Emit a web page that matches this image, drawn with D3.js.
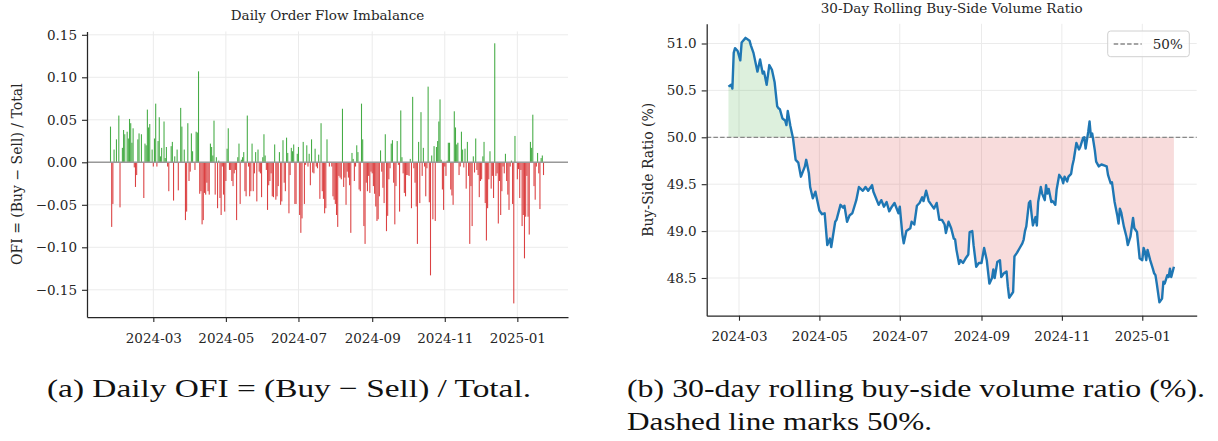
<!DOCTYPE html>
<html>
<head>
<meta charset="utf-8">
<script src="https://cdn.jsdelivr.net/npm/d3@7/dist/d3.min.js"></script>
<style>
  body { margin: 0; background: #fff; }
  svg { display: block; }
  text { font-family: "DejaVu Serif", serif; fill: #262626; }
  .cap { font-family: "Liberation Serif", serif; fill: #111; }
</style>
</head>
<body>
<svg id="fig" width="1218" height="441"></svg>
<script>
// ---- data ----
var startDate = "2024-01-25";   // day 0 of both series

// daily OFI, one value per calendar day from startDate (0 = no visible bar)
var ofi = [
  0.042,-0.076,-0.049,0.015,0,0.027,0,0.055,-0.053,0,
  0.017,0.038,0.033,0,0.036,0.028,0.051,0.046,0.023,0.040,
  -0.006,-0.029,-0.015,0.027,0.034,0,0.033,0,-0.042,0.022,
  0.020,0.062,0.041,0.045,0,0.015,-0.005,0.028,0.069,-0.005,
  0.025,0.053,0.007,0.017,0,0.048,0.005,0.018,-0.005,-0.034,
  0,0.019,0.024,-0.045,0.007,0,0.015,-0.033,0,0.064,
  0.042,0,0.015,-0.068,-0.058,0.046,-0.022,-0.011,0.034,0.013,
  0,-0.009,0.036,0.035,0.107,-0.037,-0.034,-0.073,-0.068,-0.036,
  -0.038,-0.024,-0.034,-0.038,0.022,0.018,0.008,0.049,-0.038,0.006,
  -0.054,0.002,-0.042,-0.062,-0.005,-0.038,-0.058,-0.022,0.016,0.040,
  -0.009,-0.009,-0.022,-0.028,-0.013,-0.009,-0.068,0.006,0.022,-0.049,
  0.003,0.006,0.012,-0.034,-0.040,0.055,-0.005,-0.040,-0.034,0.022,
  -0.034,-0.013,0.012,-0.046,0.015,-0.011,-0.013,-0.041,0.006,0.033,
  0.008,-0.009,-0.056,-0.027,-0.022,-0.013,-0.040,-0.041,0.021,-0.044,
  -0.040,-0.028,0.012,-0.050,-0.046,0.026,-0.024,-0.034,0.029,0.011,
  -0.060,-0.015,0.017,0.013,0.021,-0.049,-0.049,0.010,0.018,-0.062,
  -0.083,-0.066,0.024,-0.049,-0.003,0.020,-0.005,0.010,-0.027,0.027,
  -0.012,-0.013,0.016,-0.005,-0.007,0.009,-0.043,0.046,-0.034,-0.043,
  -0.060,-0.054,0.027,0,-0.005,0,-0.005,-0.040,-0.044,-0.049,
  -0.062,-0.076,-0.016,-0.018,-0.020,0.063,-0.029,-0.018,-0.050,-0.011,
  -0.018,-0.027,-0.083,0.011,0.004,-0.022,-0.005,0.020,0.012,-0.032,
  -0.034,0.069,0.027,-0.075,-0.096,-0.024,-0.034,-0.016,-0.036,-0.011,
  -0.013,-0.028,-0.037,-0.052,-0.069,-0.067,-0.040,0.014,-0.011,-0.030,
  -0.048,0.033,-0.081,-0.063,-0.020,-0.007,0.022,0.026,-0.024,-0.073,
  -0.028,0.025,-0.003,-0.058,0.061,0.006,-0.013,-0.036,-0.040,-0.015,
  -0.015,-0.016,0.004,-0.054,0.077,-0.007,-0.024,-0.052,-0.096,0.024,
  -0.048,0.059,-0.016,0.017,-0.005,-0.040,-0.007,0.089,-0.047,-0.133,
  0.008,-0.067,0.019,-0.069,0.018,0.025,0.048,0.074,0.003,-0.032,
  -0.056,-0.005,-0.016,0.002,0.023,0.023,-0.032,-0.039,-0.050,0.060,
  0.041,0.021,0.023,-0.015,-0.005,0.036,0.015,-0.006,0.016,-0.031,
  0.024,-0.016,-0.096,-0.028,-0.075,0.007,-0.012,0.028,-0.009,-0.015,
  -0.041,-0.022,-0.020,0.007,0.024,-0.048,-0.092,-0.054,-0.020,0.013,
  -0.031,-0.016,-0.042,0.140,-0.016,-0.013,-0.072,-0.022,-0.062,-0.034,
  -0.005,-0.013,0.010,-0.022,-0.038,-0.056,-0.005,0.002,-0.049,-0.166,
  0.031,0,-0.020,-0.008,-0.042,-0.009,-0.075,-0.062,-0.113,-0.064,
  -0.016,-0.064,-0.085,0.024,0.017,0.056,-0.028,-0.044,-0.005,0.011,
  -0.013,-0.055,0.005,0.008,-0.015
];

// 30-day rolling buy-side ratio (%): day offset from startDate, value
var rollDay = [
  28,30,31,32,33,35,37,38,41,44,45,47,50,52,54,55,57,59,61,63,
  65,66,67,69,71,72,73,75,77,79,81,83,86,87,89,90,92,94,97,99,
  101,103,105,106,109,110,113,115,116,118,120,122,125,127,130,132,134,137,138,142,
  144,146,148,150,152,154,157,158,160,161,163,166,167,169,171,173,175,176,178,180,
  182,184,186,188,190,192,193,195,197,199,200,201,203,204,206,208,210,211,213,214,
  216,218,220,222,224,226,228,229,230,232,234,235,237,239,240,241,243,244,245,247,
  249,251,252,253,254,256,257,258,259,261,262,263,265,266,268,269,270,271,273,274,
  276,277,279,281,282,283,285,286,288,289,290,292,294,295,297,298,299,301,302,303,
  304,306,307,309,311,313,315,316,318,319,321,323,324,325,326,328,330,331,333,335,
  336,338,340,342,343,344,345,346,348,350,351,352,353,355,357,358,359,361,362,363,
  364,366
];
var rollPct = [
  50.54,50.56,50.52,50.90,50.95,50.92,50.82,51.01,51.06,51.03,50.98,50.90,50.70,50.83,50.68,50.70,50.56,50.77,50.72,50.59,
  50.33,50.31,50.30,50.20,50.18,50.13,50.28,50.12,49.99,49.76,49.73,49.58,49.69,49.76,49.62,49.47,49.35,49.42,49.22,49.18,
  49.19,48.85,48.92,48.83,49.10,49.12,49.28,49.25,49.27,49.10,49.17,49.19,49.33,49.47,49.43,49.47,49.43,49.49,49.42,49.28,
  49.33,49.26,49.31,49.21,49.26,49.30,49.19,49.26,48.96,48.87,49.00,49.03,49.10,49.07,49.27,49.30,49.36,49.32,49.43,49.32,
  49.28,49.24,49.30,49.12,49.12,49.07,48.98,49.10,49.03,48.92,48.91,48.80,48.65,48.69,48.66,48.71,48.75,48.99,49.00,48.85,
  48.62,48.66,48.66,48.82,48.69,48.44,48.50,48.59,48.50,48.67,48.69,48.51,48.55,48.57,48.41,48.29,48.33,48.35,48.73,48.77,
  48.82,48.87,48.91,49.00,49.05,49.30,49.32,49.18,49.06,49.15,49.06,49.31,49.47,49.40,49.33,49.49,49.40,49.45,49.31,49.32,
  49.28,49.44,49.60,49.56,49.51,49.58,49.53,49.58,49.61,49.70,49.76,49.94,49.87,49.90,49.99,50.00,49.88,50.06,50.17,50.01,
  50.04,49.86,49.74,49.69,49.71,49.70,49.69,49.60,49.51,49.52,49.31,49.17,49.08,49.24,49.20,49.05,48.94,48.85,48.94,49.14,
  49.03,48.99,48.71,48.69,48.82,48.78,48.69,48.80,48.69,48.60,48.55,48.53,48.44,48.24,48.28,48.46,48.44,48.53,48.51,48.60,
  48.51,48.62
];

var xTicks = ["2024-03-01","2024-05-01","2024-07-01","2024-09-01","2024-11-01","2025-01-01"];
var ofiTicks = [-0.15,-0.10,-0.05,0,0.05,0.10,0.15];
var pctTicks = [48.5,49.0,49.5,50.0,50.5,51.0];
var refLevel = 50;

// ---- helpers ----
var parse = d3.utcParse("%Y-%m-%d");
var t0 = parse(startDate);
function dayDate(d) { return d3.utcDay.offset(t0, d); }
var tickDates = xTicks.map(parse);
var fmtMonth = d3.utcFormat("%Y-%m");
function minus(s) { return s.replace("-", "\u2212"); }

var svg = d3.select("#fig");
var grid = "#ebebeb", spine = "#262626";

function styleAxis(g) {
  g.selectAll("path.domain").attr("stroke", spine).attr("stroke-width", 1.25);
  g.selectAll(".tick line").attr("stroke", spine).attr("stroke-width", 1.1);
  g.selectAll(".tick text").attr("fill", spine).style("font-size", "13.5px")
    .style("font-family", "'DejaVu Serif', serif");
}

// ===== (a) Daily OFI =====
var A = {left: 87, right: 568, top: 31.4, bottom: 317};
var xa = d3.scaleUtc()
  .domain([new Date(Date.UTC(2024,0,5,6)), new Date(Date.UTC(2025,1,12,14))])
  .range([A.left, A.right]);
var ya = d3.scaleLinear().domain([-0.182, 0.154]).range([A.bottom, A.top]);

var ga = svg.append("g");
ga.append("g").selectAll("line").data(tickDates).enter().append("line")
  .attr("x1", function(d){ return xa(d); }).attr("x2", function(d){ return xa(d); })
  .attr("y1", A.top).attr("y2", A.bottom)
  .attr("stroke", grid).attr("stroke-width", 1);
ga.append("g").selectAll("line").data(ofiTicks).enter().append("line")
  .attr("x1", A.left).attr("x2", A.right)
  .attr("y1", function(d){ return ya(d); }).attr("y2", function(d){ return ya(d); })
  .attr("stroke", grid).attr("stroke-width", 1);

var dayW = xa(dayDate(1)) - xa(dayDate(0));
ga.append("g").selectAll("rect").data(ofi).enter().append("rect")
  .attr("x", function(d, i){ return xa(dayDate(i)) - dayW * 0.45; })
  .attr("width", dayW * 0.9)
  .attr("y", function(d){ return ya(Math.max(d, 0)); })
  .attr("height", function(d){ return Math.abs(ya(d) - ya(0)); })
  .attr("fill", function(d){ return d >= 0 ? "#2ca02c" : "#d62728"; })
  .attr("fill-opacity", 0.88);

ga.append("line")
  .attr("x1", A.left).attr("x2", A.right).attr("y1", ya(0)).attr("y2", ya(0))
  .attr("stroke", "#999").attr("stroke-width", 1.6);

ga.append("g").attr("transform", "translate(0," + A.bottom + ")")
  .call(d3.axisBottom(xa).tickValues(tickDates).tickFormat(fmtMonth)
    .tickSize(5).tickSizeOuter(0).tickPadding(11))
  .call(styleAxis);
ga.append("g").attr("transform", "translate(" + A.left + ",0)")
  .call(d3.axisLeft(ya).tickValues(ofiTicks)
    .tickFormat(function(d){ return minus(d3.format(".2f")(d)); })
    .tickSize(5).tickSizeOuter(0).tickPadding(5))
  .call(styleAxis);

ga.append("text").attr("x", (A.left + A.right) / 2).attr("y", 20)
  .attr("text-anchor", "middle").style("font-size", "13.5px")
  .text("Daily Order Flow Imbalance");
ga.append("text")
  .attr("transform", "translate(22," + (A.top + A.bottom) / 2 + ") rotate(-90)")
  .attr("text-anchor", "middle").style("font-size", "14px")
  .text("OFI = (Buy \u2212 Sell) / Total");

// ===== (b) Rolling ratio =====
var B = {left: 706.7, right: 1196.7, top: 23.8, bottom: 315.7};
var xb = d3.scaleUtc()
  .domain([new Date(Date.UTC(2024,1,5,12)), new Date(Date.UTC(2025,1,11,7))])
  .range([B.left, B.right]);
var yb = d3.scaleLinear().domain([48.098, 51.21]).range([B.bottom, B.top]);

var roll = rollDay.map(function(d, i){ return {date: dayDate(d), v: rollPct[i]}; });

var gb = svg.append("g");
gb.append("g").selectAll("line").data(tickDates).enter().append("line")
  .attr("x1", function(d){ return xb(d); }).attr("x2", function(d){ return xb(d); })
  .attr("y1", B.top).attr("y2", B.bottom)
  .attr("stroke", grid).attr("stroke-width", 1);
gb.append("g").selectAll("line").data(pctTicks).enter().append("line")
  .attr("x1", B.left).attr("x2", B.right)
  .attr("y1", function(d){ return yb(d); }).attr("y2", function(d){ return yb(d); })
  .attr("stroke", grid).attr("stroke-width", 1);

// fill between line and 50%, green above and red below
var defs = svg.append("defs");
defs.append("clipPath").attr("id", "above").append("rect")
  .attr("x", B.left).attr("width", B.right - B.left)
  .attr("y", B.top).attr("height", yb(refLevel) - B.top);
defs.append("clipPath").attr("id", "below").append("rect")
  .attr("x", B.left).attr("width", B.right - B.left)
  .attr("y", yb(refLevel)).attr("height", B.bottom - yb(refLevel));

var band = d3.area()
  .x(function(d){ return xb(d.date); })
  .y0(yb(refLevel))
  .y1(function(d){ return yb(d.v); });
gb.append("path").datum(roll).attr("d", band).attr("clip-path", "url(#above)")
  .attr("fill", "#2ca02c").attr("fill-opacity", 0.16);
gb.append("path").datum(roll).attr("d", band).attr("clip-path", "url(#below)")
  .attr("fill", "#d62728").attr("fill-opacity", 0.16);

gb.append("line")
  .attr("x1", B.left).attr("x2", B.right).attr("y1", yb(refLevel)).attr("y2", yb(refLevel))
  .attr("stroke", "#888").attr("stroke-width", 1.3).attr("stroke-dasharray", "4.5,2.2");

gb.append("path").datum(roll)
  .attr("d", d3.line().x(function(d){ return xb(d.date); }).y(function(d){ return yb(d.v); }))
  .attr("fill", "none").attr("stroke", "#1f77b4").attr("stroke-width", 2.4)
  .attr("stroke-linejoin", "round");

gb.append("g").attr("transform", "translate(0," + B.bottom + ")")
  .call(d3.axisBottom(xb).tickValues(tickDates).tickFormat(fmtMonth)
    .tickSize(5).tickSizeOuter(0).tickPadding(11))
  .call(styleAxis);
gb.append("g").attr("transform", "translate(" + B.left + ",0)")
  .call(d3.axisLeft(yb).tickValues(pctTicks).tickFormat(d3.format(".1f"))
    .tickSize(5).tickSizeOuter(0).tickPadding(5))
  .call(styleAxis);

gb.append("text").attr("x", (B.left + B.right) / 2).attr("y", 13)
  .attr("text-anchor", "middle").style("font-size", "13.5px")
  .text("30-Day Rolling Buy-Side Volume Ratio");
gb.append("text")
  .attr("transform", "translate(653," + (B.top + B.bottom) / 2 + ") rotate(-90)")
  .attr("text-anchor", "middle").style("font-size", "14px")
  .text("Buy-Side Ratio (%)");

// legend
var lg = gb.append("g").attr("transform", "translate(1107.7,31)");
lg.append("rect").attr("width", 81.6).attr("height", 25.7).attr("rx", 3)
  .attr("fill", "#fff").attr("fill-opacity", 0.8).attr("stroke", "#d0d0d0");
lg.append("line").attr("x1", 6).attr("x2", 34).attr("y1", 13).attr("y2", 13)
  .attr("stroke", "#888").attr("stroke-width", 1.3).attr("stroke-dasharray", "4.5,2.2");
lg.append("text").attr("x", 45).attr("y", 18).style("font-size", "13.5px").text("50%");

// ===== captions =====
svg.append("text").attr("class", "cap").attr("x", 47).attr("y", 397)
  .attr("textLength", 484).attr("lengthAdjust", "spacingAndGlyphs")
  .style("font-size", "26px").text("(a) Daily OFI = (Buy \u2212 Sell) / Total.");
svg.append("text").attr("class", "cap").attr("x", 627).attr("y", 397)
  .attr("textLength", 578).attr("lengthAdjust", "spacingAndGlyphs")
  .style("font-size", "26px").text("(b) 30-day rolling buy-side volume ratio (%).");
svg.append("text").attr("class", "cap").attr("x", 627).attr("y", 430)
  .attr("textLength", 305).attr("lengthAdjust", "spacingAndGlyphs")
  .style("font-size", "26px").text("Dashed line marks 50%.");
</script>
</body>
</html>
